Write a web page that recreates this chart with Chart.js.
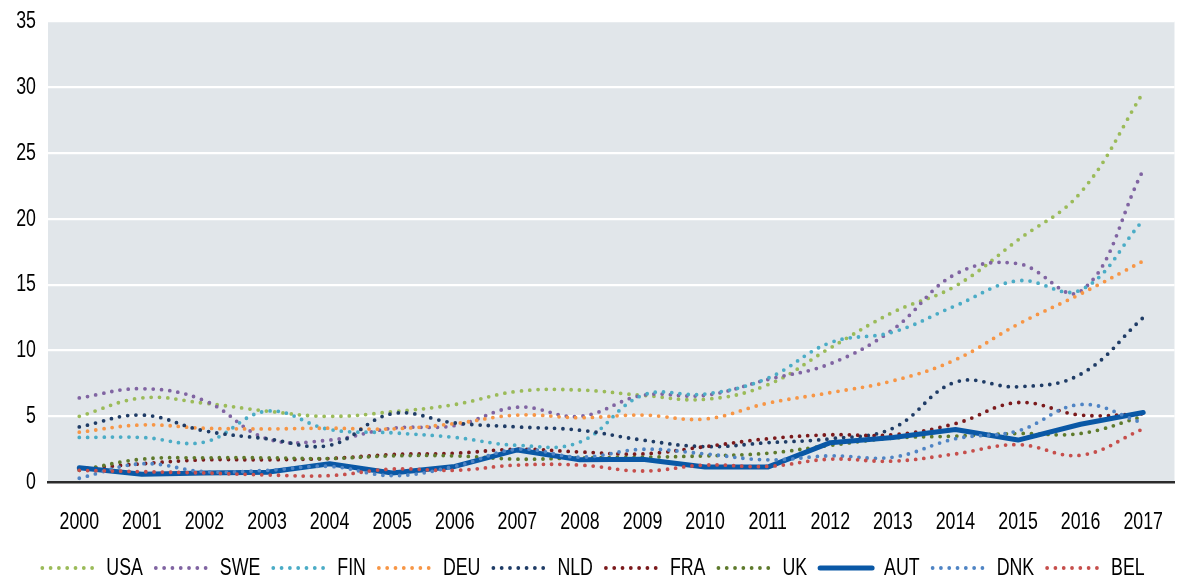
<!DOCTYPE html>
<html>
<head>
<meta charset="utf-8">
<script src="https://cdn.jsdelivr.net/npm/chart.js@4.4.1/dist/chart.umd.min.js"></script>
<style>
  html, body { margin: 0; padding: 0; background: #fff; }
  #wrap { width: 1189px; height: 581px; position: relative; }
</style>
</head>
<body>
<div id="wrap"><canvas id="chart"></canvas></div>
<script>
const years = ['2000', '2001', '2002', '2003', '2004', '2005', '2006', '2007', '2008',
               '2009', '2010', '2011', '2012', '2013', '2014', '2015', '2016', '2017'];

const usa = [5.0, 6.4, 6.0, 5.4, 5.0, 5.35, 5.9, 6.9, 7.0, 6.6, 6.3, 7.4, 10.2, 12.9, 14.9, 18.4, 22.0, 29.6];
const swe = [6.4, 7.1, 6.2, 3.3, 3.2, 4.1, 4.3, 5.7, 5.0, 6.6, 6.6, 7.8, 9.0, 11.6, 15.8, 16.6, 14.5, 23.7];
const fin = [3.4, 3.4, 3.05, 5.4, 4.0, 3.75, 3.4, 2.8, 3.05, 6.6, 6.7, 7.9, 10.6, 11.4, 13.4, 15.3, 14.6, 19.9];
const deu = [3.8, 4.35, 4.1, 4.05, 4.1, 4.05, 4.45, 5.1, 4.9, 5.1, 4.8, 6.0, 6.8, 7.7, 9.3, 12.0, 14.3, 16.8];
const nld = [4.2, 5.1, 3.9, 3.3, 2.8, 5.2, 4.5, 4.2, 3.95, 3.2, 2.7, 3.0, 3.3, 4.1, 7.6, 7.25, 8.2, 12.5];
const fra = [1.0, 1.4, 1.7, 1.7, 1.8, 2.1, 2.2, 2.5, 2.3, 2.15, 2.7, 3.3, 3.6, 3.6, 4.45, 6.05, 5.1, 5.2];
const uk  = [0.9, 1.75, 1.85, 1.85, 1.8, 2.0, 2.0, 1.75, 1.85, 1.9, 2.0, 2.2, 2.8, 3.35, 3.5, 3.7, 3.7, 5.0];
const aut = [1.1, 0.6, 0.7, 0.75, 1.4, 0.7, 1.2, 2.45, 1.7, 1.75, 1.15, 1.15, 3.0, 3.4, 4.0, 3.2, 4.4, 5.3];
const dnk = [0.3, 1.4, 0.8, 0.9, 1.2, 0.5, 1.2, 2.5, 1.9, 2.5, 2.15, 1.7, 2.0, 1.9, 3.3, 3.9, 5.9, 4.5];
const bel = [0.9, 0.8, 0.7, 0.55, 0.5, 1.0, 0.9, 1.3, 1.3, 0.85, 1.3, 1.2, 1.75, 1.6, 2.15, 2.85, 2.05, 4.05];

const yTicks = [0, 5, 10, 15, 20, 25, 30, 35];

Chart.defaults.font.family = "'Liberation Sans', Arial, sans-serif";
Chart.defaults.font.size = 24;
Chart.defaults.color = '#000';

// no narrow font installed: squeeze text horizontally on this canvas
const canvas = document.getElementById('chart');
const c2d = canvas.getContext('2d');
const SQUEEZE = 0.74;
const origFill = c2d.fillText.bind(c2d);
const origMeasure = c2d.measureText.bind(c2d);
c2d.fillText = function (text, x, y, maxW) {
  this.save();
  this.translate(x, y);
  this.scale(SQUEEZE, 1);
  if (maxW !== undefined) origFill(text, 0, 0, maxW / SQUEEZE);
  else origFill(text, 0, 0);
  this.restore();
};
c2d.measureText = function (text) {
  const m = origMeasure(text);
  return {
    width: m.width * SQUEEZE,
    actualBoundingBoxAscent: m.actualBoundingBoxAscent,
    actualBoundingBoxDescent: m.actualBoundingBoxDescent
  };
};

// dotted series = zero-length dashes with round caps
function dotted(label, data, color, idx) {
  return {
    label, data,
    borderColor: color,
    backgroundColor: color,
    borderWidth: 3.8,
    borderDash: [0, 8.3],
    borderCapStyle: 'round',
    tension: 0.4,
    pointRadius: 0,
    order: 20 - idx
  };
}

const datasets = [
  dotted('USA', usa, '#9bbb59', 0),
  dotted('SWE', swe, '#8064a2', 1),
  dotted('FIN', fin, '#4bacc6', 2),
  dotted('DEU', deu, '#f79646', 3),
  dotted('NLD', nld, '#1f3c66', 4),
  dotted('FRA', fra, '#7b1a1c', 5),
  dotted('UK', uk, '#5e7a2c', 6),
  {
    label: 'AUT', data: aut,
    borderColor: '#0a58a6',
    backgroundColor: '#0a58a6',
    borderWidth: 5,
    borderCapStyle: 'round',
    borderJoinStyle: 'round',
    tension: 0,
    pointRadius: 0,
    order: 20 - 7
  },
  dotted('DNK', dnk, '#4f84c4', 8),
  dotted('BEL', bel, '#c64f4c', 9)
];

// grey plot background
const plotBg = {
  id: 'plotBg',
  beforeDraw(chart) {
    const { ctx, chartArea: a } = chart;
    ctx.save();
    ctx.fillStyle = '#e1e6ea';
    ctx.fillRect(a.left, a.top, a.right - a.left, a.bottom - a.top);
    ctx.restore();
  }
};

new Chart(canvas, {
  type: 'line',
  data: { labels: years, datasets },
  plugins: [plotBg],
  options: {
    responsive: true,
    maintainAspectRatio: false,
    animation: false,
    layout: { padding: { top: 0, right: 2, left: 0, bottom: -9 } },
    scales: {
      x: {
        offset: true,
        afterFit(scale) { scale.height -= 20; },
        grid: { display: false, drawTicks: false },
        border: { display: true, color: '#2b2b2b', width: 2.5 },
        ticks: { padding: 26, maxRotation: 0, autoSkip: false }
      },
      y: {
        min: 0,
        max: 35,
        afterBuildTicks(scale) { scale.ticks = yTicks.map(v => ({ value: v })); },
        afterFit(scale) {
          scale.width = 48;
          scale.paddingTop = Math.max(0, scale.paddingTop - 5);
        },
        grid: {
          color: c => (c.tick && c.tick.value === 0) ? 'rgba(0,0,0,0)' : '#ffffff',
          lineWidth: 2.2,
          drawTicks: false
        },
        border: { display: false },
        ticks: { padding: 12 }
      }
    },
    plugins: {
      tooltip: { enabled: false },
      legend: {
        position: 'bottom',
        labels: {
          usePointStyle: true,
          pointStyleWidth: 52,
          boxHeight: 10,
          padding: 13,
          font: { size: 24 },
          generateLabels(chart) {
            return chart.data.datasets.map((ds, i) => ({
              text: ds.label,
              fillStyle: ds.borderColor,
              strokeStyle: ds.borderColor,
              lineWidth: ds.borderWidth,
              lineDash: ds.borderDash || [],
              lineCap: 'round',
              pointStyle: 'line',
              hidden: false,
              datasetIndex: i,
              fontColor: '#000'
            }));
          }
        }
      }
    }
  }
});
</script>
</body>
</html>
